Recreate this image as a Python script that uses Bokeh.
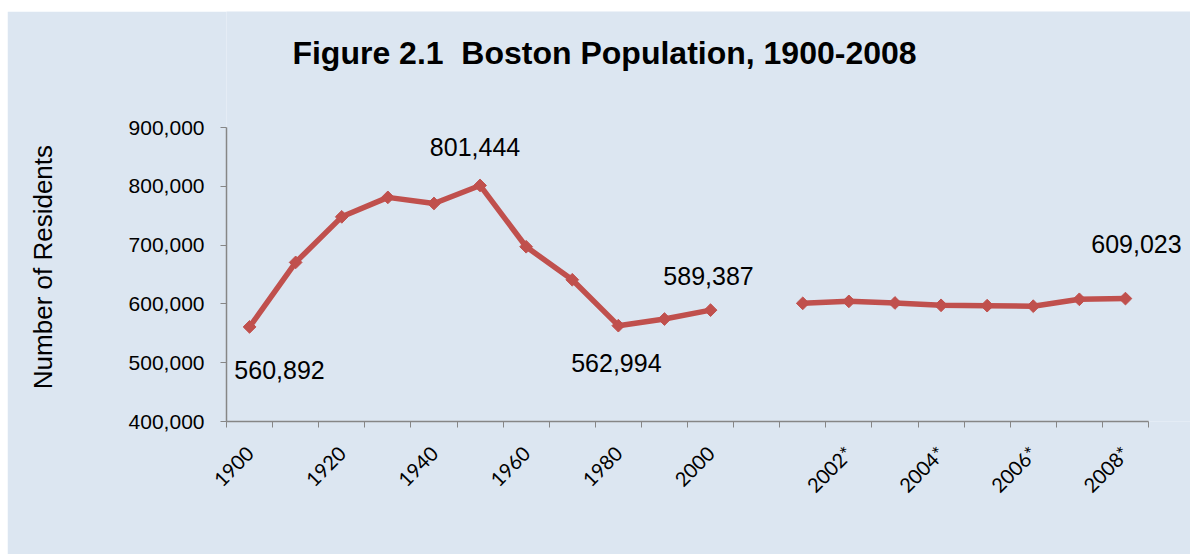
import math
from bokeh.plotting import figure
from bokeh.models import (Range1d, FixedTicker, NumeralTickFormatter, Label,
                          ColumnDataSource)
from bokeh.core.properties import value
from bokeh.embed import file_html
from bokeh.resources import INLINE

# ---------------- data ----------------
categories = ["1900", "1910", "1920", "1930", "1940", "1950", "1960", "1970",
              "1980", "1990", "2000", "",
              "2001*", "2002*", "2003*", "2004*", "2005*", "2006*", "2007*", "2008*"]
population = [560892, 670585, 748060, 781188, 770816, 801444, 697197, 641071,
              562994, 574283, 589387, None,
              601000, 604300, 601600, 597600, 597000, 596100, 607800, 609023]
tick_labels = ["1900", "1920", "1940", "1960", "1980", "2000",
               "2002*", "2004*", "2006*", "2008*"]
labelled = ["1900", "1950", "1980", "2000", "2008*"]

title_text = "Figure 2.1\u00a0 Boston Population, 1900-2008"
y_title = "Number of Residents"
y_min, y_max, y_step = 400000, 900000, 100000

# ---------------- styles / layout (page pixels) ----------------
PAGE_W, PAGE_H = 1190, 554
OX, OY = 7, 11                     # white page strip left / top
W, H = PAGE_W - OX, PAGE_H - OY
AX_LEFT, AX_RIGHT = 226 - OX, 1148 - OX     # axis extent in canvas px
AX_TOP, AX_BOTTOM = 127 - OY, 421 - OY      # y_max / y_min in canvas px
BG = "#dce6f1"
RED = "#c0504d"
AXIS = "#868686"
label_offsets = {"1900": (30, 43), "1950": (-5, -38), "1980": (-2, 37),
                 "2000": (-2, -34), "2008*": (11, -55)}
Y_TITLE_PAD = "\u00a0" * 14   # shifts the rotated axis title down to the axis span

n = len(categories)
x_end = n * (W - AX_LEFT) / (AX_RIGHT - AX_LEFT)
y_end = y_min + (y_max - y_min) * AX_BOTTOM / (AX_BOTTOM - AX_TOP)

xs = [i + 0.5 for i in range(n)]
ys = [float("nan") if v is None else v for v in population]

p = figure(width=W, height=H, output_backend="svg", toolbar_location=None,
           x_range=Range1d(0, x_end), y_range=Range1d(y_min, y_end),
           min_border_left=AX_LEFT, min_border_right=0, min_border_top=0,
           min_border_bottom=H - AX_BOTTOM)
p.margin = (OY, 0, 0, OX)
p.background_fill_color = BG
p.border_fill_color = BG
p.outline_line_color = None
p.grid.visible = False

p.line(xs, ys, line_color=RED, line_width=5.5)
pts = ColumnDataSource(dict(x=[x for x, v in zip(xs, population) if v is not None],
                            y=[v for v in population if v is not None]))
p.scatter("x", "y", source=pts, marker="square", angle=math.pi / 4, size=9,
          fill_color=RED, line_color=RED)

lab = ColumnDataSource(dict(
    x=[xs[categories.index(c)] for c in labelled],
    y=[population[categories.index(c)] for c in labelled],
    t=[f"{population[categories.index(c)]:,}" for c in labelled],
    xo=[label_offsets[c][0] for c in labelled],
    yo=[label_offsets[c][1] for c in labelled],
))
p.text("x", "y", text="t", source=lab, x_offset="xo", y_offset="yo",
       text_font=value("Liberation Sans"), text_font_size="25px",
       text_align="center", text_baseline="middle", text_color="black")

# x axis
xa = p.xaxis[0]
tick_pos = [xs[categories.index(c)] for c in tick_labels]
xa.ticker = FixedTicker(ticks=tick_pos, minor_ticks=list(range(n + 1)))
xa.bounds = (0, n)
xa.major_label_overrides = {pos: lab_ for pos, lab_ in zip(tick_pos, tick_labels)}
xa.major_label_orientation = math.pi / 4
xa.major_tick_line_color = None
xa.minor_tick_line_color = AXIS
xa.minor_tick_in = 0
xa.minor_tick_out = 6
xa.axis_line_color = AXIS
xa.axis_line_width = 1.5
xa.major_label_text_font = "Lato"
xa.major_label_text_font_size = "20px"
xa.major_label_text_color = "black"
xa.major_label_standoff = 22

# y axis
ya = p.yaxis[0]
ya.ticker = FixedTicker(ticks=list(range(y_min, y_max + 1, y_step)))
ya.bounds = (y_min, y_max)
ya.formatter = NumeralTickFormatter(format="0,0")
ya.major_tick_in = 0
ya.major_tick_out = 6
ya.major_tick_line_color = AXIS
ya.minor_tick_line_color = None
ya.axis_line_color = AXIS
ya.axis_line_width = 1.5
ya.major_label_text_font = "Liberation Sans"
ya.major_label_text_font_size = "21px"
ya.major_label_text_color = "black"
ya.major_label_standoff = 16
ya.axis_label = y_title + Y_TITLE_PAD
ya.axis_label_text_font = "Liberation Sans"
ya.axis_label_text_font_size = "26px"
ya.axis_label_text_font_style = "normal"
ya.axis_label_text_color = "black"
ya.axis_label_standoff = 68

title = Label(x=604 - OX - AX_LEFT, y=AX_BOTTOM - (52 - OY), x_units="screen",
              y_units="screen", text=title_text,
              text_font="Liberation Sans", text_font_size="32px",
              text_font_style="bold", text_align="center",
              text_baseline="alphabetic", text_color="black")
p.add_layout(title)

open("out.html", "w").write(file_html(p, INLINE))
